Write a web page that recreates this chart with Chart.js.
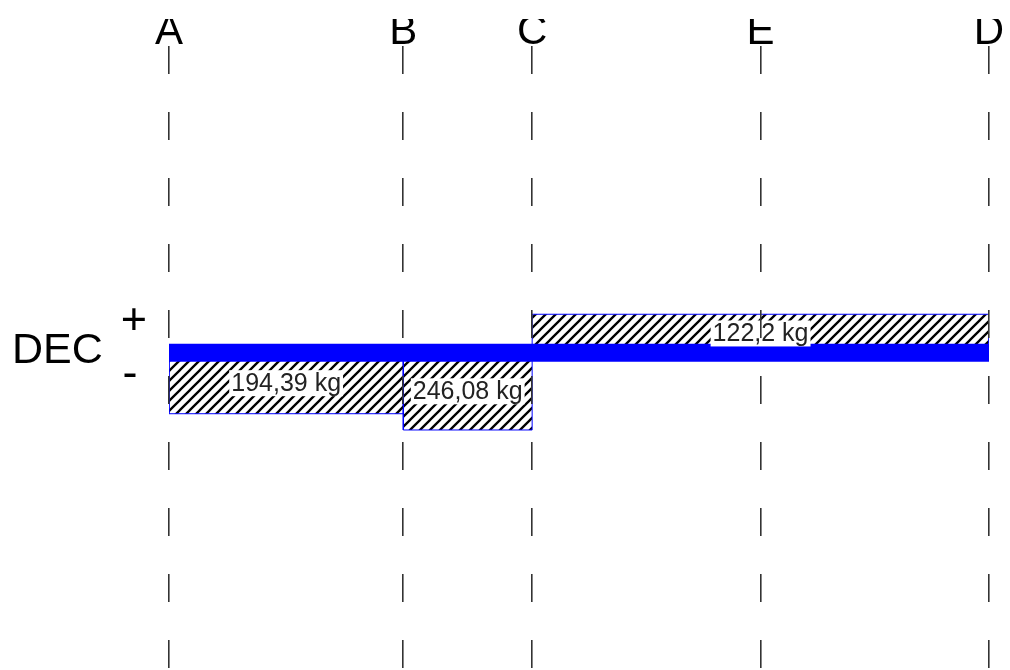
<!DOCTYPE html>
<html>
<head>
<meta charset="utf-8">
<title>DEC</title>
<script src="https://cdn.jsdelivr.net/npm/chart.js@4.4.0/dist/chart.umd.min.js"></script>
<style>
	body { margin: 0; background: #fff; }
	#grafico { width: 1010px; height: 670px; }
</style>
</head>
<body>
<div id="grafico"><canvas id="dec"></canvas></div>
<script>
// pontos da viga e posicoes (m)
var pontos = ['A', 'B', 'C', 'E', 'D'];
var posicoes = [0, 2.0, 3.1, 5.05, 7.0];

// trechos do esforco cortante
var trechoInicio = ['A', 'B', 'C'];
var trechoFim = ['B', 'C', 'D'];
var cortante = [-194.39, -246.08, 122.2];
var rotulos = ['194,39 kg', '246,08 kg', '122,2 kg'];

var azul = '#0000ff';

function hachura(){
	var c = document.createElement('canvas');
	c.width = 10;
	c.height = 10;
	var g = c.getContext('2d');
	g.strokeStyle = '#000';
	g.lineWidth = 2.3;
	g.beginPath();
	g.moveTo(-1, 11); g.lineTo(11, -1);
	g.moveTo(-1, 1); g.lineTo(1, -1);
	g.moveTo(9, 11); g.lineTo(11, 9);
	g.stroke();
	return g.createPattern(c, 'repeat');
}

function posicao(nome){
	return posicoes[pontos.indexOf(nome)];
}

var padrao = hachura();

// viga (primeiro dataset fica por cima)
var datasets = [{
	label: 'viga',
	data: [{x: posicoes[0], y: 0}, {x: posicoes[posicoes.length - 1], y: 0}],
	borderColor: azul,
	borderWidth: 18,
	borderCapStyle: 'butt',
	pointRadius: 0,
	fill: false
}];

for(var i = 0; i < cortante.length; i++){
	var x0 = posicao(trechoInicio[i]);
	var x1 = posicao(trechoFim[i]);
	datasets.push({
		label: rotulos[i],
		data: [{x: x0, y: 0}, {x: x0, y: cortante[i]}, {x: x1, y: cortante[i]}, {x: x1, y: 0}],
		borderColor: azul,
		borderWidth: 1,
		backgroundColor: padrao,
		fill: 'origin',
		pointRadius: 0,
		tension: 0
	});
}

var textos = {
	id: 'textos',
	afterDatasetsDraw: function(chart){
		var ctx = chart.ctx;
		var sx = chart.scales.x;
		var sy = chart.scales.y;
		ctx.save();

		// valores dos trechos
		ctx.font = '25px "Liberation Sans", Arial, sans-serif';
		ctx.textAlign = 'center';
		ctx.textBaseline = 'middle';
		for(var i = 0; i < cortante.length; i++){
			var cx = (sx.getPixelForValue(posicao(trechoInicio[i])) + sx.getPixelForValue(posicao(trechoFim[i]))) / 2;
			var cy = (sy.getPixelForValue(0) + sy.getPixelForValue(cortante[i])) / 2;
			var w = ctx.measureText(rotulos[i]).width;
			ctx.fillStyle = '#fff';
			ctx.fillRect(cx - w / 2 - 2, cy - 13, w + 4, 26);
			ctx.fillStyle = '#222';
			ctx.fillText(rotulos[i], cx, cy + 1);
		}

		// DEC + -
		ctx.fillStyle = '#000';
		ctx.textBaseline = 'alphabetic';
		ctx.textAlign = 'left';
		ctx.font = '43px "Liberation Sans", Arial, sans-serif';
		ctx.fillText('DEC', 12, 363);
		ctx.textAlign = 'center';
		ctx.font = '45px "Liberation Sans", Arial, sans-serif';
		ctx.fillText('+', 134, 334);
		ctx.fillText('-', 130, 387);
		ctx.restore();
	}
};

var ctx = document.getElementById('dec').getContext('2d');
var chart = new Chart(ctx, {
	type: 'line',
	data: { datasets: datasets },
	options: {
		responsive: true,
		maintainAspectRatio: false,
		animation: false,
		layout: { padding: { left: 169, right: 21, top: 19, bottom: 0 } },
		plugins: {
			legend: { display: false },
			tooltip: { enabled: false }
		},
		scales: {
			x: {
				type: 'linear',
				position: 'top',
				min: posicoes[0],
				max: posicoes[posicoes.length - 1],
				afterBuildTicks: function(s){
					s.ticks = posicoes.map(function(v){ return {value: v}; });
				},
				ticks: {
					autoSkip: false,
					maxRotation: 0,
					padding: 0,
					color: '#000',
					font: { family: '"Liberation Sans", Arial, sans-serif', size: 42, lineHeight: 0.65 },
					callback: function(v){ return pontos[posicoes.indexOf(v)]; }
				},
				grid: { color: '#333', lineWidth: 1.6, drawTicks: false, z: 1 },
				border: { display: false, dash: [28, 38] }
			},
			y: {
				type: 'linear',
				display: false,
				min: -1010,
				max: 975
			}
		}
	},
	plugins: [textos]
});
</script>
</body>
</html>
